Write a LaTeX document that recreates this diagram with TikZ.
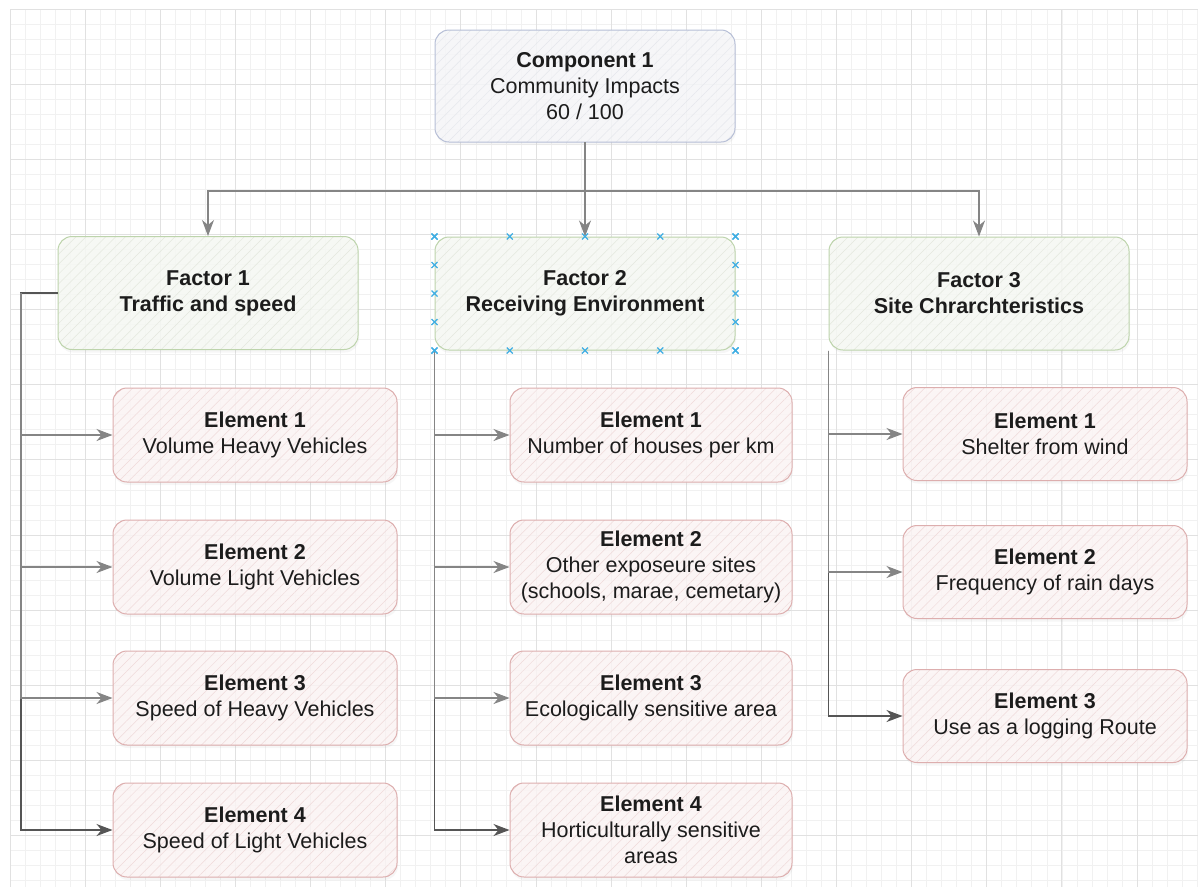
\documentclass[tikz,border=0pt]{standalone}
\usepackage{fontspec}
\setmainfont{Liberation Sans}
\usetikzlibrary{arrows.meta,patterns.meta,calc,shadows}

\definecolor{gridminor}{HTML}{F1F1F1}
\definecolor{gridmajor}{HTML}{E1E1E1}
\definecolor{compline}{HTML}{B6BED6}
\definecolor{compfill}{HTML}{F6F7F9}
\definecolor{comphatch}{HTML}{E5E7EC}
\definecolor{factline}{HTML}{BDD4AC}
\definecolor{factfill}{HTML}{F7F9F4}
\definecolor{facthatch}{HTML}{E4E8DE}
\definecolor{elemline}{HTML}{DDAEAE}
\definecolor{elemfill}{HTML}{FCF5F5}
\definecolor{elemhatch}{HTML}{EFDADA}
\definecolor{connline}{HTML}{858585}
\definecolor{trunkline}{HTML}{555555}
\definecolor{handle}{HTML}{3FAEE3}
\definecolor{txt}{HTML}{1C1C1C}

\tikzset{
  box/.style={rounded corners=14pt, line width=1pt, inner sep=0pt,
    align=center, text=txt, font=\fontsize{21.5}{26}\selectfont,
    drop shadow={shadow xshift=1pt, shadow yshift=-3pt, opacity=0.07}},
  compbox/.style={box, draw=compline, minimum width=300pt, minimum height=112pt,
    preaction={fill=compfill, fill opacity=0.85},
    pattern={Lines[angle=45,distance=7pt,line width=0.5pt]}, pattern color=comphatch},
  factbox/.style={box, draw=factline, minimum width=300pt, minimum height=113pt,
    font=\fontsize{21.5}{26}\selectfont\bfseries,
    preaction={fill=factfill, fill opacity=0.85},
    pattern={Lines[angle=45,distance=7pt,line width=0.5pt]}, pattern color=facthatch},
  elembox/.style={box, draw=elemline, minimum width=284pt, minimum height=94pt,
    preaction={fill=elemfill, fill opacity=0.85},
    pattern={Lines[angle=45,distance=7pt,line width=0.5pt]}, pattern color=elemhatch},
  conn/.style={draw=connline, line width=1.1pt,
    -{Stealth[length=16pt,width=12pt,inset=5pt]}, color=connline},
  trunk/.style={conn, draw=trunkline},
  gminor/.style={draw=gridminor, line width=0.6pt},
  gmajor/.style={draw=gridmajor, line width=0.8pt},
  handlemark/.style={draw=handle, line width=1.1pt},
}

\begin{document}
\begin{tikzpicture}[x=1pt,y=-1pt]
\useasboundingbox[fill=white] (0,0) rectangle (1198,887);

% background grid
\foreach \i in {0,...,79} {
  \draw[gminor] ({10+15.026*\i},9) -- ({10+15.026*\i},887);
}
\foreach \j in {0,...,58} {
  \draw[gminor] (10,{9+15.026*\j}) -- (1198,{9+15.026*\j});
}
\foreach \i in {0,...,15} {
  \draw[gmajor] ({10+75.13*\i},9) -- ({10+75.13*\i},887);
}
\foreach \j in {0,...,11} {
  \draw[gmajor] (10,{9+75.13*\j}) -- (1198,{9+75.13*\j});
}

% component
\node[compbox] (c1) at (585,86) {\textbf{Component 1}\\Community Impacts\\60 / 100};

% factors
\node[factbox] (f1) at (208,293) {Factor 1\\Traffic and speed};
\node[factbox] (f2) at (585,293.5) {Factor 2\\Receiving Environment};
\node[factbox] (f3) at (979,293.5) {Factor 3\\Site Chrarchteristics};

% elements of factor 1
\node[elembox] (e11) at (255,435) {\textbf{Element 1}\\Volume Heavy Vehicles};
\node[elembox] (e12) at (255,567) {\textbf{Element 2}\\Volume Light Vehicles};
\node[elembox] (e13) at (255,698) {\textbf{Element 3}\\Speed of Heavy Vehicles};
\node[elembox] (e14) at (255,830) {\textbf{Element 4}\\Speed of Light Vehicles};

% elements of factor 2
\node[elembox, minimum width=282pt] (e21) at (651,435) {\textbf{Element 1}\\Number of houses per km};
\node[elembox, minimum width=282pt] (e22) at (651,567) {\textbf{Element 2}\\Other exposeure sites\\(schools, marae, cemetary)};
\node[elembox, minimum width=282pt] (e23) at (651,698) {\textbf{Element 3}\\Ecologically sensitive area};
\node[elembox, minimum width=282pt] (e24) at (651,830) {\textbf{Element 4}\\Horticulturally sensitive\\areas};

% elements of factor 3
\node[elembox, minimum height=93pt] (e31) at (1045,434) {\textbf{Element 1}\\Shelter from wind};
\node[elembox, minimum height=93pt] (e32) at (1045,572) {\textbf{Element 2}\\Frequency of rain days};
\node[elembox, minimum height=93pt] (e33) at (1045,716) {\textbf{Element 3}\\Use as a logging Route};

% component to factors
\coordinate (bus) at (585,191);
\draw[conn] (c1.south) -- (f2.north);
\draw[conn] (c1.south) -- (bus) -| (f1.north);
\draw[conn] (c1.south) -- (bus) -| (f3.north);

% factor 1 branches
\coordinate (t1) at (21,293);
\draw[trunk] (f1.west) -- (t1) |- (e14.west);
\draw[conn] (t1) |- (e11.west);
\draw[conn] (t1) |- (e12.west);
\draw[conn] (t1) |- (e13.west);

% factor 2 branches
\draw[trunk] (f2.south west) |- (e24.west);
\draw[conn] (f2.south west) |- (e21.west);
\draw[conn] (f2.south west) |- (e22.west);
\draw[conn] (f2.south west) |- (e23.west);

% factor 3 branches
\draw[trunk] (f3.south west) |- (e33.west);
\draw[conn] (f3.south west) |- (e31.west);
\draw[conn] (f3.south west) |- (e32.west);

% selection handles round factor 2
\foreach \k in {0,...,4} {
  \coordinate (ht) at ($(f2.north west)!\k/4!(f2.north east)$);
  \coordinate (hb) at ($(f2.south west)!\k/4!(f2.south east)$);
  \coordinate (hl) at ($(f2.north west)!\k/4!(f2.south west)$);
  \coordinate (hr) at ($(f2.north east)!\k/4!(f2.south east)$);
  \foreach \h in {ht,hb,hl,hr} {
    \draw[handlemark] ($(\h)+(-3,-3)$) -- ($(\h)+(3,3)$)
                      ($(\h)+(-3,3)$) -- ($(\h)+(3,-3)$);
  }
}
\end{tikzpicture}
\end{document}
